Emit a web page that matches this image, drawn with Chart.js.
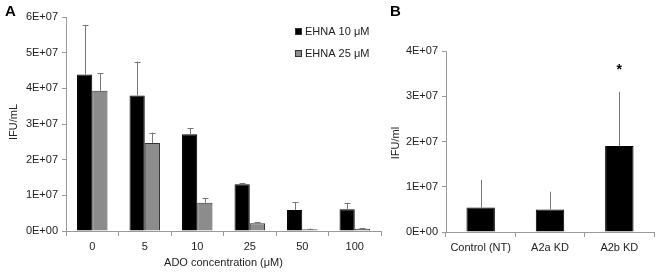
<!DOCTYPE html>
<html>
<head>
<meta charset="utf-8">
<script src="https://cdn.jsdelivr.net/npm/chart.js@4.4.1/dist/chart.umd.min.js"></script>
<style>
  html, body { margin: 0; padding: 0; background: #fff; }
  #wrap { position: relative; width: 661px; height: 272px; overflow: hidden; }
  .box { position: absolute; top: 0; height: 272px; }
</style>
</head>
<body>
<div id="wrap">
  <div class="box" style="left:0;width:390px"><canvas id="chartA"></canvas></div>
  <div class="box" style="left:380px;width:281px"><canvas id="chartB"></canvas></div>
</div>
<script>
// panel A data
const concLabels = ["0", "5", "10", "25", "50", "100"];
const ehna10 = [4.39e7, 3.80e7, 2.71e7, 1.31e7, 0.59e7, 0.61e7];
const ehna10Err = [1.39e7, 0.95e7, 0.17e7, 0.04e7, 0.21e7, 0.18e7];
const ehna25 = [3.93e7, 2.47e7, 0.79e7, 0.22e7, 0.05e7, 0.06e7];
const ehna25Err = [0.49e7, 0.29e7, 0.13e7, 0.03e7, 0.02e7, 0.02e7];

// panel B data
const kdLabels = ["Control (NT)", "A2a KD", "A2b KD"];
const kdValues = [0.54e7, 0.50e7, 1.90e7];
const kdErr = [0.61e7, 0.39e7, 1.20e7];
const kdSignif = ["", "", "*"];

const FONT = "'Liberation Sans', Arial, sans-serif";
Chart.defaults.font.family = FONT;
Chart.defaults.font.size = 11;
Chart.defaults.color = "#222";

function sci(v) {
  if (v === 0) return "0E+00";
  const e = Math.floor(Math.log10(Math.abs(v)) + 1e-9);
  const m = Math.round(v / Math.pow(10, e));
  return m + "E+" + String(e).padStart(2, "0");
}

const errorBars = {
  id: "errorBars",
  afterDatasetsDraw(chart, args, opts) {
    const ctx = chart.ctx;
    const y = chart.scales.y;
    chart.data.datasets.forEach((ds, i) => {
      if (!ds.errors) return;
      const meta = chart.getDatasetMeta(i);
      meta.data.forEach((bar, j) => {
        const top = y.getPixelForValue(ds.data[j] + ds.errors[j]);
        ctx.save();
        ctx.strokeStyle = "#777";
        ctx.lineWidth = 1;
        ctx.beginPath();
        ctx.moveTo(Math.round(bar.x) + 0.5, bar.y);
        ctx.lineTo(Math.round(bar.x) + 0.5, top);
        if (opts.cap) {
          ctx.moveTo(Math.round(bar.x) - opts.cap + 0.5, Math.round(top) + 0.5);
          ctx.lineTo(Math.round(bar.x) + opts.cap + 0.5, Math.round(top) + 0.5);
        }
        ctx.stroke();
        if (ds.marks && ds.marks[j]) {
          ctx.fillStyle = "#000";
          ctx.font = "bold 14px " + FONT;
          ctx.textAlign = "center";
          ctx.textBaseline = "middle";
          ctx.fillText(ds.marks[j], bar.x, top - 22);
        }
        ctx.restore();
      });
    });
  }
};

const decor = {
  id: "decor",
  afterDraw(chart, args, opts) {
    const ctx = chart.ctx;
    const area = chart.chartArea;
    ctx.save();
    ctx.fillStyle = "#000";
    ctx.font = "bold 15px " + FONT;
    ctx.textAlign = "left";
    ctx.textBaseline = "top";
    ctx.fillText(opts.panel, opts.panelX, 4);

    ctx.font = "11px " + FONT;
    ctx.fillStyle = "#222";
    ctx.save();
    ctx.translate(opts.yTitleX, opts.yTitleY);
    ctx.rotate(-Math.PI / 2);
    ctx.textAlign = "center";
    ctx.textBaseline = "middle";
    ctx.fillText(opts.yTitle, 0, 0);
    ctx.restore();

    if (opts.xTitle) {
      ctx.textAlign = "center";
      ctx.textBaseline = "middle";
      ctx.fillText(opts.xTitle, (area.left + area.right) / 2, 263);
    }

    if (opts.legend) {
      chart.data.datasets.forEach((ds, i) => {
        const ly = 31 + i * 22;
        ctx.fillStyle = ds.backgroundColor;
        ctx.fillRect(295, ly - 3, 7, 7);
        ctx.strokeStyle = "#333";
        ctx.lineWidth = 1;
        ctx.strokeRect(295.5, ly - 2.5, 6, 6);
        ctx.fillStyle = "#222";
        ctx.textAlign = "left";
        ctx.textBaseline = "middle";
        ctx.fillText(ds.label, 305, ly + 1);
      });
    }
    ctx.restore();
  }
};

function xScale(height) {
  return {
    offset: true,
    grid: { display: true, offset: true, drawOnChartArea: false, drawTicks: true, tickLength: 5, color: "#999" },
    border: { display: true, color: "#999" },
    ticks: { padding: 4, color: "#222", maxRotation: 0, autoSkip: false },
    afterFit(s) { s.height = height; }
  };
}

function yScale(max, width) {
  return {
    min: 0,
    max: max,
    grid: { drawOnChartArea: false, drawTicks: true, tickLength: 4, color: "#999" },
    border: { display: true, color: "#999" },
    ticks: { stepSize: 1e7, padding: 4, color: "#222", callback: (v) => sci(v) },
    afterFit(s) { s.width = width; }
  };
}

new Chart(document.getElementById("chartA"), {
  type: "bar",
  data: {
    labels: concLabels,
    datasets: [
      { label: "EHNA 10 \u03bcM", data: ehna10, errors: ehna10Err, backgroundColor: "#000", borderColor: "#000", borderWidth: 1 },
      { label: "EHNA 25 \u03bcM", data: ehna25, errors: ehna25Err, backgroundColor: "#8c8c8c", borderColor: "#333", borderWidth: 1 }
    ]
  },
  options: {
    responsive: true,
    maintainAspectRatio: false,
    animation: false,
    layout: { padding: { top: 17, right: 9, bottom: 0, left: 0 } },
    datasets: { bar: { categoryPercentage: 0.58, barPercentage: 1.0 } },
    scales: { x: xScale(41), y: yScale(6e7, 66) },
    plugins: {
      legend: { display: false },
      tooltip: { enabled: false },
      errorBars: { cap: 3 },
      decor: { panel: "A", panelX: 5, yTitle: "IFU/mL", yTitleX: 14, yTitleY: 122, xTitle: "ADO concentration (\u03bcM)", legend: true }
    }
  },
  plugins: [errorBars, decor]
});

new Chart(document.getElementById("chartB"), {
  type: "bar",
  data: {
    labels: kdLabels,
    datasets: [
      { label: "IFU/ml", data: kdValues, errors: kdErr, marks: kdSignif, backgroundColor: "#000", borderColor: "#000", borderWidth: 1 }
    ]
  },
  options: {
    responsive: true,
    maintainAspectRatio: false,
    animation: false,
    layout: { padding: { top: 51, right: 7, bottom: 0, left: 0 } },
    datasets: { bar: { categoryPercentage: 0.41, barPercentage: 1.0 } },
    scales: { x: xScale(40), y: yScale(4e7, 66) },
    plugins: {
      legend: { display: false },
      tooltip: { enabled: false },
      errorBars: { cap: 0 },
      decor: { panel: "B", panelX: 10, yTitle: "IFU/ml", yTitleX: 16, yTitleY: 143, xTitle: "", legend: false }
    }
  },
  plugins: [errorBars, decor]
});
</script>
</body>
</html>
